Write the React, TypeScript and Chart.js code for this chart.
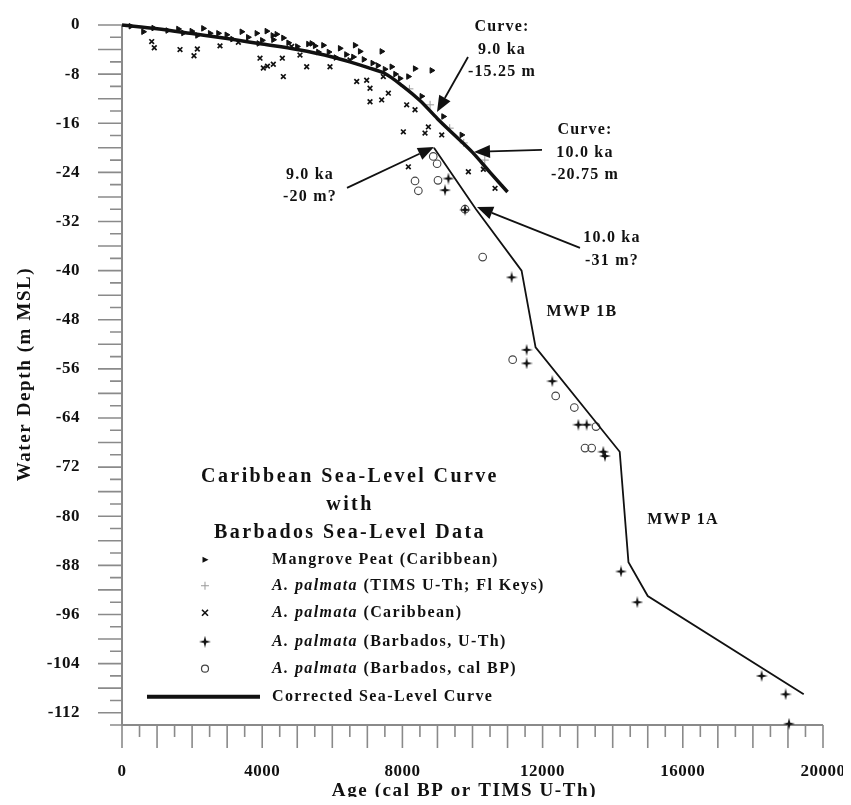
import React, { useEffect, useRef } from "react";
import { Chart, registerables } from "chart.js";
Chart.register(...registerables);

// ---------- axes ----------
const X_TICKS = [0, 4000, 8000, 12000, 16000, 20000];
const Y_TICKS = [0, -8, -16, -24, -32, -40, -48, -56, -64, -72, -80, -88, -96, -104, -112];
const X_MIN = 0;
const X_MAX = 20000;
const Y_MIN = -114;
const Y_MAX = 0;
const X_TITLE = "Age (cal BP or TIMS U-Th)";
const Y_TITLE = "Water Depth (m MSL)";

// ---------- series ----------
const CURVE_UPPER: [number, number][] = [
  [0, 0], [1000, -0.6], [2000, -1.4], [3000, -2.2], [4000, -3.1], [5000, -4.0],
  [6000, -5.2], [6500, -6.0], [7000, -6.9], [7500, -7.9], [8000, -9.9], [8500, -12.3],
  [9000, -15.25], [9500, -18.0], [10000, -20.75], [10500, -24.0], [11000, -27.2],
];
const CURVE_LOWER: [number, number][] = [
  [8900, -20], [10100, -30], [11400, -40], [11800, -52.5], [14200, -69.5],
  [14450, -87.5], [15000, -93], [19450, -109],
];
const MANGROVE_PEAT: [number, number][] = [
  [250, -0.2], [609, -1.1], [900, -0.5], [1300, -0.9], [1607, -0.65], [1750, -1.3],
  [1988, -1.0], [2150, -1.7], [2320, -0.55], [2511, -1.35], [2749, -1.35], [2986, -1.6],
  [3150, -2.3], [3415, -1.1], [3600, -2.0], [3843, -1.35], [3900, -3.0], [4000, -2.5],
  [4128, -1.0], [4300, -1.7], [4413, -1.5], [4603, -2.1], [4318, -2.4], [4750, -2.9],
  [5000, -3.5], [5316, -3.1], [5412, -3.0], [5506, -3.4], [5600, -4.4], [5745, -3.3],
  [5900, -4.4], [6100, -5.3], [6220, -3.8], [6400, -4.8], [6600, -5.2], [6648, -3.3],
  [6791, -4.3], [6900, -5.6], [7150, -6.2], [7300, -6.6], [7409, -4.3], [7500, -7.2],
  [7694, -6.8], [7800, -8.0], [7932, -8.7], [8170, -8.4], [8360, -7.1], [8836, -7.4],
  [8550, -11.6], [9170, -14.9], [9692, -17.9],
];
const FL_KEYS: [number, number][] = [
  [8200, -10.4], [8790, -13.0], [9350, -16.8], [9750, -19.2], [10350, -22.0],
];
const CARIB_PALMATA: [number, number][] = [
  [847, -2.7], [921, -3.7], [1655, -4.0], [2149, -3.9], [2054, -5.0], [2796, -3.4],
  [3320, -2.8], [3937, -5.4], [4032, -7.0], [4150, -6.7], [4317, -6.4], [4574, -5.4],
  [4603, -8.4], [4840, -3.5], [5078, -4.9], [5269, -6.8], [5934, -6.8], [6505, -5.7],
  [6696, -9.2], [6981, -9.0], [7076, -10.3], [7456, -8.4], [7599, -11.1], [7409, -12.2],
  [7076, -12.5], [8122, -13.0], [8360, -13.8], [8027, -17.4], [8741, -16.6], [8645, -17.6],
  [9122, -17.9], [8170, -23.1], [9882, -23.9], [10310, -23.5], [10643, -26.6],
];
const BARB_UTH: [number, number][] = [
  [9312, -25.0], [9217, -26.9], [9787, -30.1], [11118, -41.1], [11546, -52.9],
  [11546, -55.1], [12277, -58.0], [13019, -65.1], [13257, -65.1], [13732, -69.5],
  [13780, -70.2], [14237, -89.0], [14702, -94.0], [18250, -106.0], [18935, -109.0],
  [19030, -113.8],
];
const BARB_CALBP: [number, number][] = [
  [8880, -21.4], [8990, -22.6], [8360, -25.4], [8455, -27.0], [9015, -25.3],
  [9787, -30.0], [10290, -37.8], [11146, -54.5], [12373, -60.4], [12905, -62.3],
  [13523, -65.4], [13210, -68.9], [13400, -68.9],
];

// ---------- texts ----------
const LEGEND_TITLE = ["Caribbean Sea-Level Curve", "with", "Barbados Sea-Level Data"];
const LEGEND_ITEMS = [
  { italic: "", text: "Mangrove Peat (Caribbean)", marker: "peat" },
  { italic: "A. palmata", text: " (TIMS U-Th; Fl Keys)", marker: "keys" },
  { italic: "A. palmata", text: " (Caribbean)", marker: "carib" },
  { italic: "A. palmata", text: " (Barbados, U-Th)", marker: "uth" },
  { italic: "A. palmata", text: " (Barbados, cal BP)", marker: "calbp" },
  { italic: "", text: "Corrected Sea-Level Curve", marker: "line" },
];
const CALLOUT_TEXT = [
  ["Curve:", "9.0 ka", "-15.25 m"],
  ["Curve:", "10.0 ka", "-20.75 m"],
  ["9.0 ka", "-20 m?"],
  ["10.0 ka", "-31 m?"],
];
const PHASE_LABELS = ["MWP 1B", "MWP 1A"];

// ---------- placement (in axis units) ----------
const CALLOUT_AT = [[10842, -0.33], [13210, -17.1], [5364, -24.4], [13980, -34.7]];
const ARROW_FROM = [[9872, -5.21], [11983, -20.35], [6419, -26.53], [13067, -36.3]];
const ARROW_TO = [[8987, -14.16], [10043, -20.67], [8902, -19.86], [10129, -29.63]];
const PHASE_AT = [[13124, -46.7], [16006, -80.6]];
const LEGEND_TITLE_AT = { x: 6505, y: [-73.58, -78.14, -82.7] };
const LEGEND_ROWS_Y = [-87.09, -91.32, -95.72, -100.44, -104.83, -109.39];
const LEGEND_MARK_X = 2368;
const LEGEND_TEXT_X = 4280;
const LEGEND_LINE_X = [713, 3937];

const FONT = '"Liberation Serif", "Times New Roman", serif';
const AXIS_COLOR = "#8a8a8a";
const INK = "#111";

function makeStar(size: number) {
  const c = document.createElement("canvas");
  c.width = size;
  c.height = size;
  const g = c.getContext("2d")!;
  const m = size / 2;
  g.beginPath();
  for (let i = 0; i < 8; i++) {
    const a = (i * Math.PI) / 4 - Math.PI / 2;
    const r = i % 2 === 0 ? size / 2 : size * 0.14;
    g.lineTo(m + r * Math.cos(a), m + r * Math.sin(a));
  }
  g.closePath();
  g.fillStyle = INK;
  g.fill();
  return c;
}

const pts = (a: [number, number][]) => a.map(([x, y]) => ({ x, y }));

export default function App() {
  const ref = useRef<HTMLCanvasElement>(null);

  useEffect(() => {
    const star = makeStar(12);

    const text = (
      ctx: CanvasRenderingContext2D, s: string, x: number, y: number, size: number,
      align: CanvasTextAlign = "center", italic = false, ls = 1.5
    ) => {
      ctx.font = `${italic ? "italic " : ""}bold ${size}px ${FONT}`;
      (ctx as any).letterSpacing = `${ls}px`;
      ctx.textAlign = align;
      ctx.textBaseline = "middle";
      ctx.fillStyle = INK;
      ctx.fillText(s, x, y);
      return ctx.measureText(s).width;
    };

    const arrow = (ctx: CanvasRenderingContext2D, x0: number, y0: number, x1: number, y1: number) => {
      const ang = Math.atan2(y1 - y0, x1 - x0);
      const L = 16, W = 6.5;
      const bx = x1 - L * Math.cos(ang), by = y1 - L * Math.sin(ang);
      ctx.strokeStyle = INK;
      ctx.lineWidth = 1.8;
      ctx.beginPath();
      ctx.moveTo(x0, y0);
      ctx.lineTo(bx, by);
      ctx.stroke();
      ctx.fillStyle = INK;
      ctx.beginPath();
      ctx.moveTo(x1, y1);
      ctx.lineTo(bx + W * Math.sin(ang), by - W * Math.cos(ang));
      ctx.lineTo(bx - W * Math.sin(ang), by + W * Math.cos(ang));
      ctx.closePath();
      ctx.fill();
    };

    const spacing = {
      id: "spacing",
      beforeLayout(chart: any) { chart.ctx.letterSpacing = "0.5px"; },
      beforeDraw(chart: any) { chart.ctx.letterSpacing = "0.5px"; },
    };

    const overlay = {
      id: "overlay",
      beforeDatasetsDraw(chart: any) {
        const { ctx, scales } = chart;
        const xs = scales.x, ys = scales.y;
        const x0 = xs.getPixelForValue(X_MIN);
        const y0 = ys.getPixelForValue(Y_MIN);
        ctx.save();
        ctx.strokeStyle = AXIS_COLOR;
        ctx.lineWidth = 2;
        ctx.beginPath();
        ctx.moveTo(x0, ys.getPixelForValue(Y_MAX));
        ctx.lineTo(x0, y0);
        ctx.moveTo(x0, y0);
        ctx.lineTo(xs.getPixelForValue(X_MAX), y0);
        ctx.stroke();
        ctx.lineWidth = 1.6;
        ctx.beginPath();
        for (let v = Y_MAX; v >= Y_MIN; v -= 2) {
          const p = ys.getPixelForValue(v);
          const len = v % 4 === 0 ? 24 : 12;
          ctx.moveTo(x0 - len, p);
          ctx.lineTo(x0, p);
        }
        for (let v = X_MIN; v <= X_MAX; v += 500) {
          const p = xs.getPixelForValue(v);
          const len = v % 1000 === 0 ? 23 : 12;
          ctx.moveTo(p, y0);
          ctx.lineTo(p, y0 + len);
        }
        ctx.stroke();
        ctx.restore();
      },
      afterDatasetsDraw(chart: any) {
        const { ctx, scales, chartArea } = chart;
        const X = (v: number) => scales.x.getPixelForValue(v);
        const Y = (v: number) => scales.y.getPixelForValue(v);
        ctx.save();

        // axis titles
        text(ctx, X_TITLE, (chartArea.left + chartArea.right) / 2 - 8, chartArea.bottom + 66, 19, "center", false, 1.6);
        ctx.save();
        ctx.translate(chartArea.left - 97, chartArea.top + 349);
        ctx.rotate(-Math.PI / 2);
        text(ctx, Y_TITLE, 0, 0, 19, "center", false, 1.6);
        ctx.restore();

        // callouts
        CALLOUT_TEXT.forEach((lines, i) => {
          const cx = X(CALLOUT_AT[i][0]);
          const cy = Y(CALLOUT_AT[i][1]);
          lines.forEach((s, j) => text(ctx, s, cx, cy + j * 22.5, 16, "center", false, 1.2));
          arrow(ctx, X(ARROW_FROM[i][0]), Y(ARROW_FROM[i][1]), X(ARROW_TO[i][0]), Y(ARROW_TO[i][1]));
        });
        PHASE_LABELS.forEach((s, i) => text(ctx, s, X(PHASE_AT[i][0]), Y(PHASE_AT[i][1]), 16, "center", false, 1.2));

        // legend block
        LEGEND_TITLE.forEach((s, i) => text(ctx, s, X(LEGEND_TITLE_AT.x), Y(LEGEND_TITLE_AT.y[i]), 20, "center", false, 2.4));
        LEGEND_ITEMS.forEach((it, i) => {
          const ry = Y(LEGEND_ROWS_Y[i]);
          const mx = X(LEGEND_MARK_X);
          let tx = X(LEGEND_TEXT_X);
          if (it.italic) tx += text(ctx, it.italic, tx, ry, 16, "left", true, 1.4);
          text(ctx, it.text, tx, ry, 16, "left", false, 1.4);
          ctx.save();
          ctx.fillStyle = INK;
          ctx.strokeStyle = INK;
          if (it.marker === "peat") {
            ctx.beginPath();
            ctx.moveTo(mx + 3.5, ry); ctx.lineTo(mx - 2.5, ry - 3); ctx.lineTo(mx - 2.5, ry + 3);
            ctx.closePath(); ctx.fill();
          } else if (it.marker === "keys") {
            ctx.strokeStyle = "#9a9a9a"; ctx.lineWidth = 1;
            ctx.beginPath();
            ctx.moveTo(mx - 4, ry); ctx.lineTo(mx + 4, ry); ctx.moveTo(mx, ry - 4); ctx.lineTo(mx, ry + 4);
            ctx.stroke();
          } else if (it.marker === "carib") {
            ctx.lineWidth = 1.6;
            ctx.beginPath();
            ctx.moveTo(mx - 3, ry - 3); ctx.lineTo(mx + 3, ry + 3);
            ctx.moveTo(mx + 3, ry - 3); ctx.lineTo(mx - 3, ry + 3);
            ctx.stroke();
          } else if (it.marker === "uth") {
            ctx.drawImage(star, mx - 6, ry - 6);
          } else if (it.marker === "calbp") {
            ctx.strokeStyle = "#444"; ctx.lineWidth = 1.2;
            ctx.beginPath(); ctx.arc(mx, ry, 3.5, 0, Math.PI * 2); ctx.stroke();
          } else {
            ctx.lineWidth = 4;
            ctx.beginPath();
            ctx.moveTo(X(LEGEND_LINE_X[0]), ry); ctx.lineTo(X(LEGEND_LINE_X[1]), ry);
            ctx.stroke();
          }
          ctx.restore();
        });
        ctx.restore();
      },
    };

    const tickFont = { family: FONT, size: 17, weight: "bold" as const };

    const chart = new Chart(ref.current!, {
      type: "scatter",
      data: {
        datasets: [
          {
            label: "Corrected Sea-Level Curve",
            data: pts(CURVE_UPPER),
            showLine: true,
            borderColor: INK,
            borderWidth: 3.5,
            pointRadius: 0,
            cubicInterpolationMode: "monotone",
            clip: false,
          } as any,
          {
            label: "Corrected Sea-Level Curve (Barbados)",
            data: pts(CURVE_LOWER),
            showLine: true,
            borderColor: INK,
            borderWidth: 1.8,
            pointRadius: 0,
            tension: 0,
            clip: false,
          },
          {
            label: "Mangrove Peat (Caribbean)",
            data: pts(MANGROVE_PEAT),
            pointStyle: "triangle",
            pointRotation: 90,
            pointRadius: 3.2,
            pointBackgroundColor: INK,
            pointBorderColor: INK,
            pointBorderWidth: 1,
            clip: false,
          } as any,
          {
            label: "A. palmata (TIMS U-Th; Fl Keys)",
            data: pts(FL_KEYS),
            pointStyle: "cross",
            pointRadius: 4,
            pointBorderColor: "#9a9a9a",
            pointBorderWidth: 1,
            clip: false,
          },
          {
            label: "A. palmata (Caribbean)",
            data: pts(CARIB_PALMATA),
            pointStyle: "crossRot",
            pointRadius: 3.3,
            pointBorderColor: INK,
            pointBorderWidth: 1.7,
            clip: false,
          },
          {
            label: "A. palmata (Barbados, U-Th)",
            data: pts(BARB_UTH),
            pointStyle: star,
            pointRadius: 6,
            clip: false,
          } as any,
          {
            label: "A. palmata (Barbados, cal BP)",
            data: pts(BARB_CALBP),
            pointStyle: "circle",
            pointRadius: 3.8,
            pointBackgroundColor: "rgba(0,0,0,0)",
            pointBorderColor: "#444",
            pointBorderWidth: 1.1,
            clip: false,
          },
        ],
      },
      options: {
        animation: false,
        responsive: true,
        maintainAspectRatio: false,
        layout: { padding: { top: 17, right: 20, left: 0, bottom: 0 } },
        plugins: { legend: { display: false }, tooltip: { enabled: false } },
        scales: {
          x: {
            type: "linear",
            min: X_MIN,
            max: X_MAX,
            grid: { display: false },
            border: { display: false },
            afterBuildTicks: (s: any) => { s.ticks = X_TICKS.map((v) => ({ value: v })); },
            afterFit: (s: any) => { s.height = 72; s.paddingLeft = 0; s.paddingRight = 0; },
            ticks: {
              padding: 28,
              color: INK,
              font: tickFont,
              autoSkip: false,
              maxRotation: 0,
              callback: (v: any) => String(v),
            },
          },
          y: {
            type: "linear",
            min: Y_MIN,
            max: Y_MAX,
            grid: { display: false },
            border: { display: false },
            afterBuildTicks: (s: any) => { s.ticks = Y_TICKS.map((v) => ({ value: v })); },
            afterFit: (s: any) => { s.width = 114; s.paddingTop = 0; s.paddingBottom = 0; },
            ticks: {
              padding: 34,
              color: INK,
              font: tickFont,
              autoSkip: false,
              callback: (v: any) => String(v),
            },
          },
        },
      },
      plugins: [spacing, overlay],
    });
    return () => chart.destroy();
  }, []);

  return (
    <div style={{ position: "relative", width: 835, height: 789 }}>
      <canvas ref={ref} />
    </div>
  );
}
